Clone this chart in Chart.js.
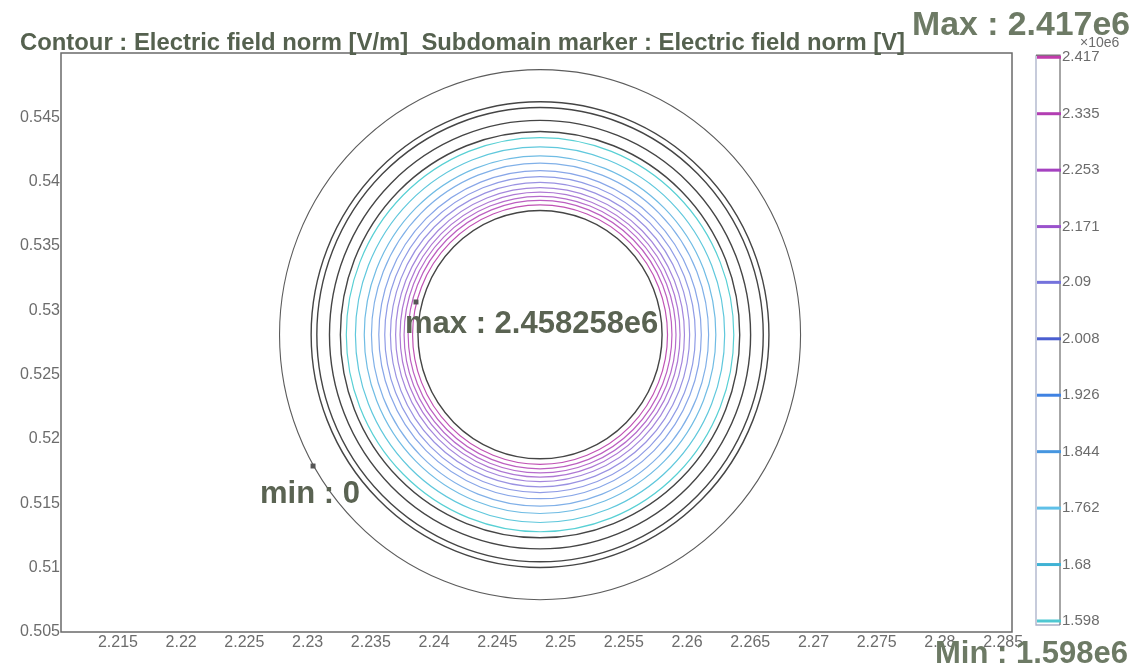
<!DOCTYPE html>
<html>
<head>
<meta charset="utf-8">
<script src="https://cdn.jsdelivr.net/npm/chart.js"></script>
<style>
  html, body { margin: 0; padding: 0; background: #fff; }
  canvas { display: block; }
</style>
</head>
<body>
<canvas id="chart" width="1133" height="665"></canvas>
<script>
// tick labels
const xTicks = [2.215, 2.22, 2.225, 2.23, 2.235, 2.24, 2.245, 2.25, 2.255, 2.26, 2.265, 2.27, 2.275, 2.28, 2.285];
const yTicks = [0.505, 0.51, 0.515, 0.52, 0.525, 0.53, 0.535, 0.54, 0.545];

// colour bar levels (x10e6) and their colours
const colorbarLevels = [1.598, 1.68, 1.762, 1.844, 1.926, 2.008, 2.09, 2.171, 2.253, 2.335, 2.417];
const colorbarColors = ['#4fc8d2', '#3fb2d4', '#5fc0e8', '#4696e0', '#3f82e2', '#4a5ed0',
                        '#7472dc', '#9a52cc', '#a542c0', '#b23eb2', '#c23cac'];

// geometry: common centre of the rings and their radii (m)
const ringCenter = [2.24838, 0.52811];
const outerRadius = [0.0206];
const boundaryRadii = [0.01810, 0.01765, 0.01665, 0.01579, 0.00965];
const contourRadii = [0.01532, 0.01460, 0.01390, 0.01333, 0.01275, 0.01228,
                      0.01183, 0.01142, 0.01107, 0.01075, 0.01043, 0.01008];
const contourColors = ['#58d0d4', '#60c8dc', '#70bce4', '#80b0e8', '#88a6e8', '#909ce6',
                       '#9a92e2', '#a486dc', '#ae78d4', '#b66ccc', '#bc5ec0', '#c052b4'];

// max / min markers
const markerX = [2.23857, 2.23043];
const markerY = [0.53065, 0.51790];
const markerLabels = ['max : 2.458258e6', 'min : 0'];

const labelFont = '"Liberation Sans", Arial, sans-serif';
const tickGrey = '#6c6c6c';

const ringPlugin = {
  id: 'rings',
  beforeDatasetsDraw(chart) {
    const { ctx, chartArea, scales: { x, y } } = chart;
    const cx = x.getPixelForValue(ringCenter[0]);
    const cy = y.getPixelForValue(ringCenter[1]);
    const ring = (r, color, width) => {
      const rx = x.getPixelForValue(ringCenter[0] + r) - cx;
      const ry = cy - y.getPixelForValue(ringCenter[1] + r);
      ctx.beginPath();
      ctx.ellipse(cx, cy, rx, ry, 0, 0, Math.PI * 2);
      ctx.strokeStyle = color;
      ctx.lineWidth = width;
      ctx.stroke();
    };
    ctx.save();
    ctx.beginPath();
    ctx.rect(chartArea.left, chartArea.top, chartArea.width, chartArea.height);
    ctx.clip();
    outerRadius.forEach(r => ring(r, '#5c5c5c', 1.1));
    boundaryRadii.forEach(r => ring(r, '#454545', 1.4));
    contourRadii.forEach((r, i) => ring(r, contourColors[i], 1.2));
    ctx.restore();
  }
};

const decorPlugin = {
  id: 'decor',
  afterDraw(chart) {
    const { ctx, chartArea: a, scales } = chart;
    ctx.save();
    // plot frame
    ctx.strokeStyle = '#6a6a6a';
    ctx.lineWidth = 1.5;
    ctx.strokeRect(a.left, a.top, a.width, a.height);

    // colour bar
    const cb = scales.cb;
    const bx0 = 1036, bx1 = 1060;
    const top = cb.getPixelForValue(colorbarLevels[colorbarLevels.length - 1]) - 2;
    const bot = cb.getPixelForValue(colorbarLevels[0]) + 4;
    ctx.lineWidth = 1.3;
    ctx.strokeStyle = '#a9b0c8';
    ctx.beginPath(); ctx.moveTo(bx0, top); ctx.lineTo(bx0, bot); ctx.lineTo(bx1, bot); ctx.stroke();
    ctx.strokeStyle = '#777';
    ctx.beginPath(); ctx.moveTo(bx0, top); ctx.lineTo(bx1, top); ctx.lineTo(bx1, bot); ctx.stroke();
    colorbarLevels.forEach((v, i) => {
      const py = cb.getPixelForValue(v);
      ctx.strokeStyle = colorbarColors[i];
      ctx.lineWidth = 3;
      ctx.beginPath(); ctx.moveTo(bx0 + 1, py); ctx.lineTo(bx1 + 1, py); ctx.stroke();
    });
    ctx.fillStyle = tickGrey;
    ctx.font = '14px ' + labelFont;
    ctx.textBaseline = 'alphabetic';
    ctx.fillText('\u00d710e6', 1080, 47, 44);

    // titles
    ctx.fillStyle = '#55614f';
    ctx.font = 'bold 24px ' + labelFont;
    ctx.fillText('Contour : Electric field norm [V/m]  Subdomain marker : Electric field norm [V]', 20, 50, 885);
    ctx.fillStyle = '#6d7a65';
    ctx.font = 'bold 34px ' + labelFont;
    ctx.fillText('Max : 2.417e6', 912, 35, 218);
    ctx.font = 'bold 31px ' + labelFont;
    ctx.fillText('Min : 1.598e6', 935, 663, 196);

    // marker labels
    const offsets = [[-11, 31], [-53, 37]];
    ctx.fillStyle = '#5a6352';
    ctx.font = 'bold 31px ' + labelFont;
    markerLabels.forEach((t, i) => {
      const px = scales.x.getPixelForValue(markerX[i]);
      const py = scales.y.getPixelForValue(markerY[i]);
      ctx.fillText(t, px + offsets[i][0], py + offsets[i][1]);
    });
    ctx.restore();
  }
};

new Chart(document.getElementById('chart'), {
  type: 'scatter',
  data: {
    datasets: [{
      data: markerX.map((v, i) => ({ x: v, y: markerY[i] })),
      pointStyle: 'rect',
      pointRadius: 3.5,
      backgroundColor: '#555',
      borderWidth: 0
    }]
  },
  options: {
    responsive: false,
    animation: false,
    events: [],
    layout: { padding: { top: 53, left: 0, right: 0, bottom: 0 } },
    plugins: { legend: { display: false }, tooltip: { enabled: false } },
    scales: {
      x: {
        type: 'linear',
        min: 2.2105,
        max: 2.2857,
        afterBuildTicks: s => { s.ticks = xTicks.map(v => ({ value: v })); },
        afterFit: s => { s.height = 33; s.paddingLeft = 0; s.paddingRight = 0; },
        grid: { display: false, drawTicks: false },
        border: { display: false },
        ticks: {
          autoSkip: false, maxRotation: 0, padding: 1,
          color: tickGrey, font: { family: labelFont, size: 16 },
          callback: v => String(v)
        }
      },
      y: {
        type: 'linear',
        min: 0.505,
        max: 0.550,
        afterBuildTicks: s => { s.ticks = yTicks.map(v => ({ value: v })); },
        afterFit: s => { s.width = 61; s.paddingTop = 0; s.paddingBottom = 0; },
        grid: { display: false, drawTicks: false },
        border: { display: false },
        ticks: {
          autoSkip: false, padding: 1,
          color: tickGrey, font: { family: labelFont, size: 16 },
          callback: v => String(v)
        }
      },
      cb: {
        type: 'linear',
        axis: 'y',
        position: 'right',
        min: 1.582,
        max: 2.4232,
        afterBuildTicks: s => { s.ticks = colorbarLevels.map(v => ({ value: v })); },
        afterFit: s => { s.width = 121; s.paddingTop = 0; s.paddingBottom = 0; },
        grid: { display: false, drawTicks: false },
        border: { display: false },
        ticks: {
          autoSkip: false, padding: 50,
          color: tickGrey, font: { family: labelFont, size: 15 },
          callback: v => String(v)
        }
      }
    }
  },
  plugins: [ringPlugin, decorPlugin]
});
</script>
</body>
</html>
